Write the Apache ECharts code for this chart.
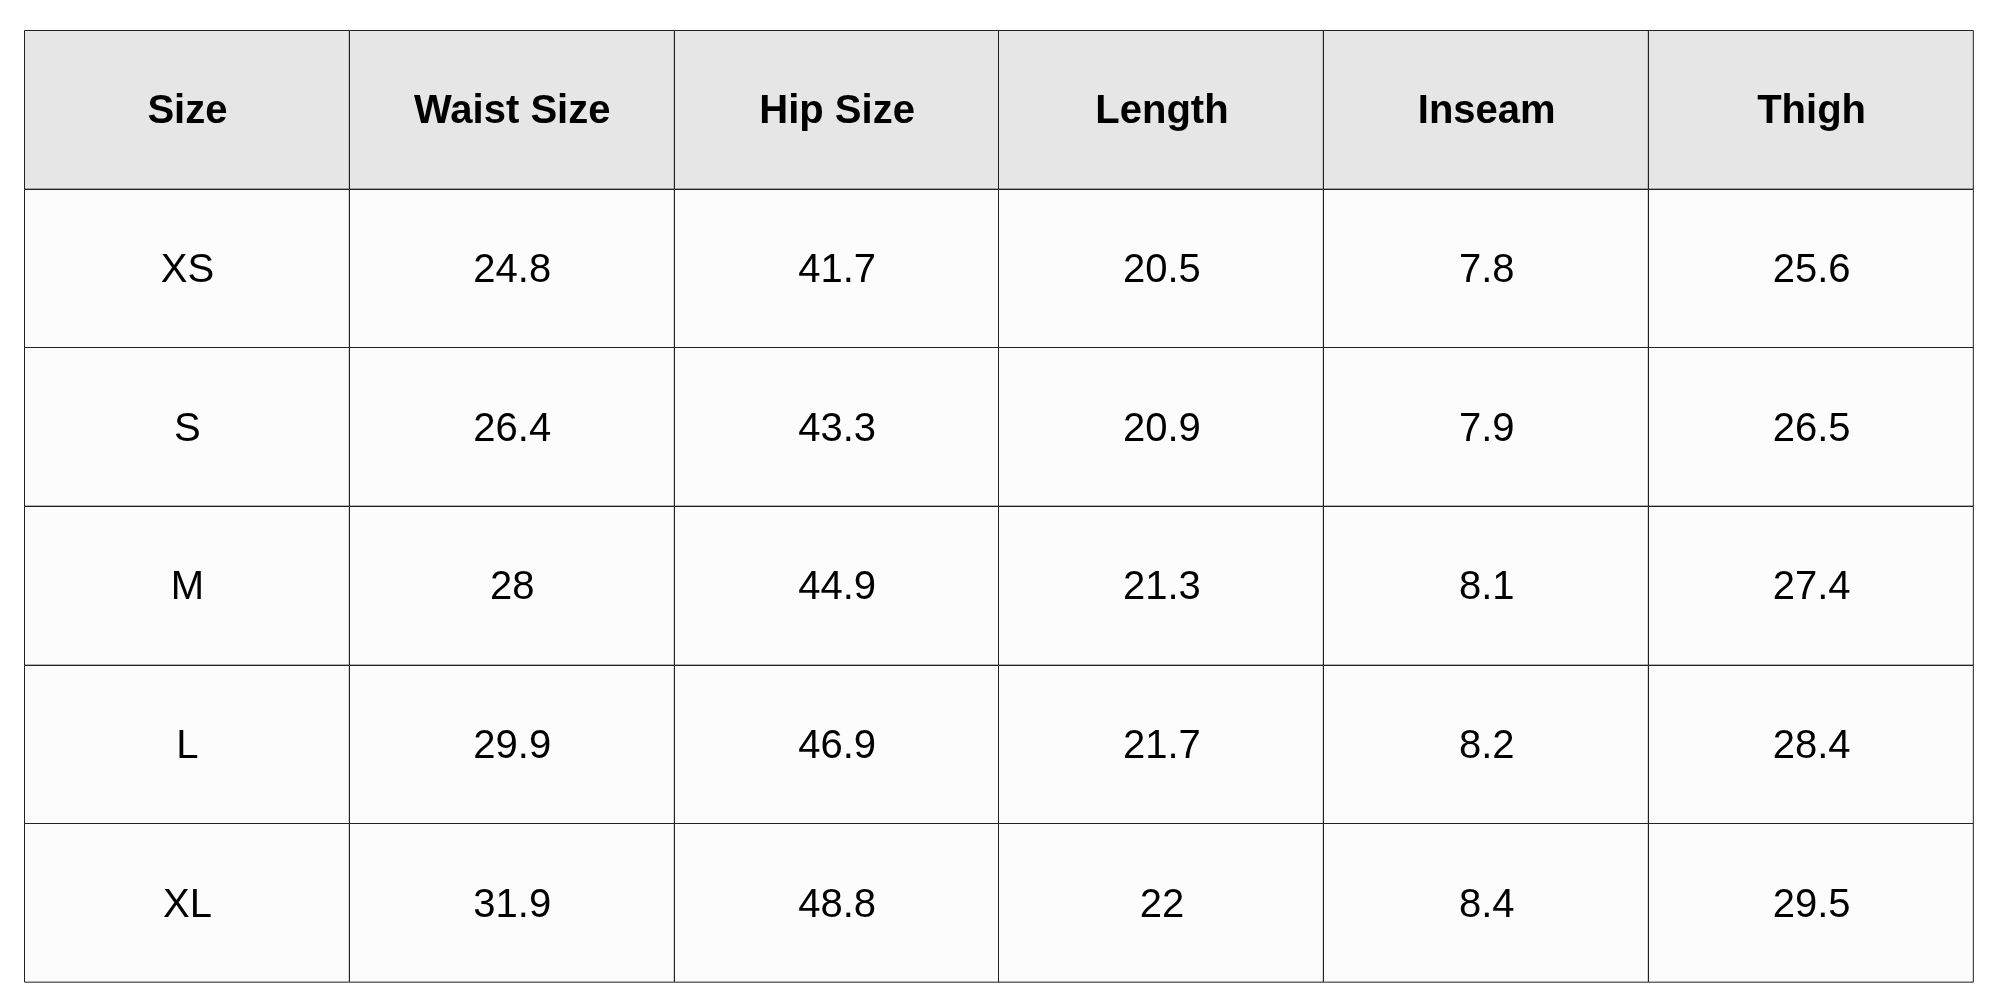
<!DOCTYPE html>
<html>
<head>
<meta charset="utf-8">
<script src="https://cdn.jsdelivr.net/npm/echarts@6/dist/echarts.min.js"></script>
<style>
  html, body { margin: 0; padding: 0; background: #fff; }
  #chart { width: 2000px; height: 1000px; }
</style>
</head>
<body>
<div id="chart"></div>
<script>
const headers = ['Size', 'Waist Size', 'Hip Size', 'Length', 'Inseam', 'Thigh']
const sizes = ['XS', 'S', 'M', 'L', 'XL']
const waist = ['24.8', '26.4', '28', '29.9', '31.9']
const hip = ['41.7', '43.3', '44.9', '46.9', '48.8']
const length = ['20.5', '20.9', '21.3', '21.7', '22']
const inseam = ['7.8', '7.9', '8.1', '8.2', '8.4']
const thigh = ['25.6', '26.5', '27.4', '28.4', '29.5']

const columns = [sizes, waist, hip, length, inseam, thigh]
const rowNames = ['h', ...sizes]

// cells: [col, row, text, isHeader]
const cells = []
headers.forEach((h, c) => cells.push([c, 0, h, 1]))
columns.forEach((col, c) => {
  col.forEach((v, r) => cells.push([c, r + 1, v, 0]))
})

const chart = echarts.init(document.getElementById('chart'))
chart.setOption({
  animation: false,
  grid: { left: 24, right: 27, top: 30, bottom: 18 },
  xAxis: { type: 'category', data: headers, show: false },
  yAxis: { type: 'category', data: rowNames, inverse: true, show: false },
  series: [{
    type: 'custom',
    data: cells,
    renderItem: function (params, api) {
      const center = api.coord([api.value(0), api.value(1)])
      const size = api.size([1, 1])
      const header = api.value(3) === 1
      return {
        type: 'group',
        children: [{
          type: 'rect',
          shape: {
            x: Math.round(center[0] - size[0] / 2) + 0.5,
            y: Math.round(center[1] - size[1] / 2) + 0.5,
            width: size[0],
            height: size[1]
          },
          style: { fill: header ? '#e6e6e6' : '#fcfcfc', stroke: '#222', lineWidth: 1 }
        }, {
          type: 'text',
          x: center[0] + 1,
          y: center[1] + 3,
          style: {
            text: String(cells[params.dataIndex][2]),
            fontFamily: 'Liberation Sans, Arial, sans-serif',
            fontSize: 40,
            fontWeight: header ? 'bold' : 'normal',
            fill: '#000',
            align: 'center',
            verticalAlign: 'middle'
          }
        }]
      }
    }
  }]
})
</script>
</body>
</html>
